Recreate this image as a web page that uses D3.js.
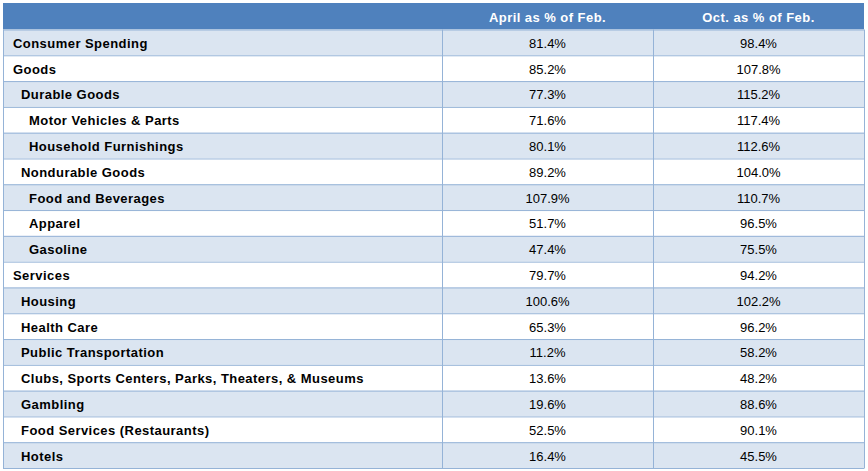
<!DOCTYPE html>
<html>
<head>
<meta charset="utf-8">
<script src="https://cdn.jsdelivr.net/npm/d3@7"></script>
<style>
  html, body { margin: 0; padding: 0; background: #ffffff; }
  svg { display: block; font-family: "Liberation Sans", Arial, sans-serif; }
</style>
</head>
<body>
<script>
// table data
const headers = ['', 'April as % of Feb.', 'Oct. as % of Feb.'];
const categories = [
  'Consumer Spending', 'Goods', 'Durable Goods', 'Motor Vehicles & Parts',
  'Household Furnishings', 'Nondurable Goods', 'Food and Beverages', 'Apparel',
  'Gasoline', 'Services', 'Housing', 'Health Care', 'Public Transportation',
  'Clubs, Sports Centers, Parks, Theaters, & Museums', 'Gambling',
  'Food Services (Restaurants)', 'Hotels'
];
const levels = [0, 0, 1, 2, 2, 1, 2, 2, 2, 0, 1, 1, 1, 1, 1, 1, 1];
const april = [81.4, 85.2, 77.3, 71.6, 80.1, 89.2, 107.9, 51.7, 47.4, 79.7, 100.6, 65.3, 11.2, 13.6, 19.6, 52.5, 16.4];
const october = [98.4, 107.8, 115.2, 117.4, 112.6, 104.0, 110.7, 96.5, 75.5, 94.2, 102.2, 96.2, 58.2, 48.2, 88.6, 90.1, 45.5];

// layout
const WIDTH = 868, HEIGHT = 471;
const LEFT = 3, RIGHT = 864;
const TOP = 3, HEADER_H = 26.5, BOTTOM = 468;
const COL_EDGES = [LEFT, 442, 653, RIGHT];
const BOLD_SPACING = 0.45;

const svg = d3.select('body').append('svg')
    .attr('width', WIDTH)
    .attr('height', HEIGHT);

const y = d3.scaleBand()
    .domain(d3.range(categories.length))
    .range([TOP + HEADER_H, BOTTOM])
    .paddingInner(0).paddingOuter(0);

const fmt = v => v.toFixed(1) + '%';

// header
svg.append('rect')
    .attr('x', LEFT).attr('y', TOP)
    .attr('width', RIGHT - LEFT).attr('height', HEADER_H)
    .attr('fill', '#4f81bd');

svg.selectAll('.head')
  .data(headers.slice(1))
  .enter()
  .append('text')
    .attr('class', 'head')
    .attr('x', (d, i) => (COL_EDGES[i + 1] + COL_EDGES[i + 2]) / 2)
    .attr('y', TOP + HEADER_H / 2 + 5.5)
    .attr('text-anchor', 'middle')
    .attr('font-size', 13)
    .attr('font-weight', 'bold')
    .attr('letter-spacing', BOLD_SPACING)
    .attr('fill', '#ffffff')
    .text(d => d);

// rows
const rows = svg.selectAll('.row')
  .data(categories.map((c, i) => ({ c, i, lvl: levels[i], a: april[i], o: october[i] })))
  .enter()
  .append('g')
    .attr('class', 'row')
    .attr('transform', d => `translate(0, ${y(d.i)})`);

rows.append('rect')
    .attr('x', LEFT)
    .attr('width', RIGHT - LEFT)
    .attr('height', y.bandwidth())
    .attr('fill', d => d.i % 2 === 0 ? '#dbe5f1' : '#ffffff');

rows.append('text')
    .attr('x', d => LEFT + 10 + d.lvl * 8)
    .attr('y', y.bandwidth() / 2 + 5.5)
    .attr('font-size', 13)
    .attr('font-weight', 'bold')
    .attr('letter-spacing', BOLD_SPACING)
    .attr('fill', '#000000')
    .text(d => d.c);

rows.append('text')
    .attr('x', (COL_EDGES[1] + COL_EDGES[2]) / 2)
    .attr('y', y.bandwidth() / 2 + 5.5)
    .attr('text-anchor', 'middle')
    .attr('font-size', 13)
    .attr('fill', '#000000')
    .text(d => fmt(d.a));

rows.append('text')
    .attr('x', (COL_EDGES[2] + COL_EDGES[3]) / 2)
    .attr('y', y.bandwidth() / 2 + 5.5)
    .attr('text-anchor', 'middle')
    .attr('font-size', 13)
    .attr('fill', '#000000')
    .text(d => fmt(d.o));

// grid lines
const lineColor = '#95b3d7';
svg.selectAll('.hline')
  .data(d3.range(categories.length + 1))
  .enter()
  .append('line')
    .attr('x1', LEFT).attr('x2', RIGHT)
    .attr('y1', i => y(i) !== undefined ? y(i) + 0.5 : BOTTOM + 0.5)
    .attr('y2', i => y(i) !== undefined ? y(i) + 0.5 : BOTTOM + 0.5)
    .attr('stroke', lineColor)
    .attr('stroke-width', 1);

svg.selectAll('.vline')
  .data(COL_EDGES)
  .enter()
  .append('line')
    .attr('x1', d => d + 0.5).attr('x2', d => d + 0.5)
    .attr('y1', TOP + HEADER_H).attr('y2', BOTTOM + 0.5)
    .attr('stroke', lineColor)
    .attr('stroke-width', 1);
</script>
</body>
</html>
